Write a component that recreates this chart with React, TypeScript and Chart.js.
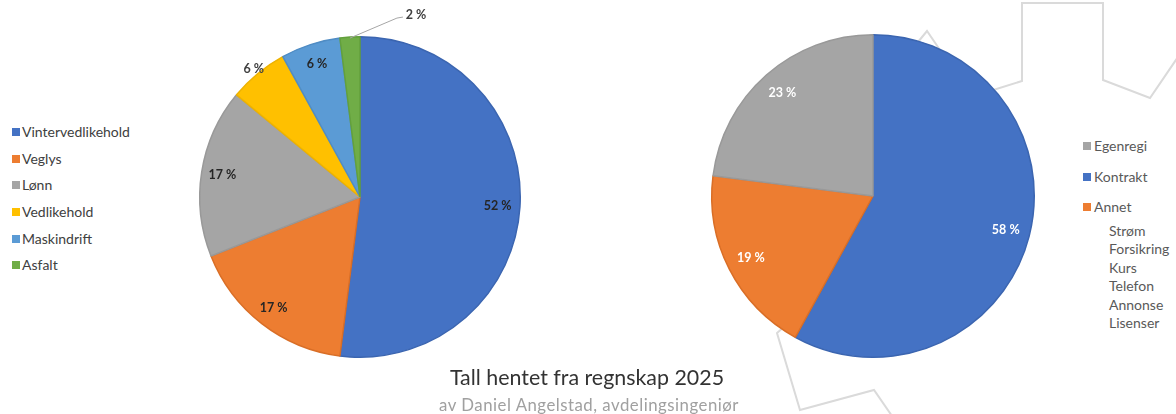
import React, { useEffect, useRef } from "react";
import { Chart, registerables } from "chart.js";

Chart.register(...registerables);

// ---- Data ----
const leftCategories = ["Vintervedlikehold", "Veglys", "Lønn", "Vedlikehold", "Maskindrift", "Asfalt"];
const leftValues = [52, 17, 17, 6, 6, 2];
const leftColors = ["#4472C4", "#ED7D31", "#A5A5A5", "#FFC000", "#5B9BD5", "#70AD47"];
const leftBorders = ["#3B65B0", "#D96E26", "#999999", "#EDB200", "#4F8CC4", "#63A03C"];

const rightCategories = ["Kontrakt", "Annet", "Egenregi"];
const rightValues = [58, 19, 23];
const rightColors = ["#4472C4", "#ED7D31", "#A5A5A5"];
const rightBorders = ["#3B65B0", "#D96E26", "#999999"];
const rightLegendOrder = ["Egenregi", "Kontrakt", "Annet"];
const annetItems = ["Strøm", "Forsikring", "Kurs", "Telefon", "Annonse", "Lisenser"];

const titleText = "Tall hentet fra regnskap 2025";
const subtitleText = "av Daniel Angelstad, avdelingsingeniør";

const FONT = "Lato, 'Open Sans', sans-serif";

// label plugin: draws percentage labels along mid-angle of each slice
const sliceLabels = {
  id: "sliceLabels",
  afterDatasetsDraw(chart: any, _args: any, opts: any) {
    const ctx = chart.ctx;
    const meta = chart.getDatasetMeta(0);
    const data: number[] = chart.data.datasets[0].data;
    const total = data.reduce((a, b) => a + b, 0);
    ctx.save();
    ctx.font = `bold 12.5px ${FONT}`;
    ctx.textAlign = "center";
    ctx.textBaseline = "middle";
    meta.data.forEach((arc: any, i: number) => {
      const p = arc.getProps(["x", "y", "startAngle", "endAngle", "outerRadius"], true);
      const mid = (p.startAngle + p.endAngle) / 2;
      const txt = Math.round((data[i] / total) * 100) + " %";
      const callout = opts.callouts && opts.callouts[i];
      ctx.fillStyle = opts.colors[i];
      if (callout) {
        const ex = p.x + Math.cos(mid) * p.outerRadius;
        const ey = p.y + Math.sin(mid) * p.outerRadius;
        const lx = ex + callout.dx;
        const ly = ey + callout.dy;
        ctx.strokeStyle = "#A6A6A6";
        ctx.lineWidth = 1;
        ctx.beginPath();
        ctx.moveTo(ex, ey + 1);
        ctx.lineTo(lx - 19, ly + 3);
        ctx.lineTo(lx - 13, ly + 2);
        ctx.stroke();
        ctx.fillText(txt, lx, ly);
      } else {
        const r = p.outerRadius * opts.radii[i];
        ctx.fillText(txt, p.x + Math.cos(mid) * r, p.y + Math.sin(mid) * r);
      }
    });
    ctx.restore();
  },
};

function PieChart(props: {
  labels: string[];
  values: number[];
  colors: string[];
  borders: string[];
  padding: any;
  labelOpts: any;
}) {
  const ref = useRef<HTMLCanvasElement | null>(null);
  useEffect(() => {
    if (!ref.current) return;
    const chart = new Chart(ref.current, {
      type: "pie",
      data: {
        labels: props.labels,
        datasets: [
          {
            data: props.values,
            backgroundColor: props.colors,
            borderColor: props.borders,
            borderWidth: 1.5,
          },
        ],
      },
      options: {
        animation: false,
        responsive: true,
        maintainAspectRatio: false,
        layout: { padding: props.padding },
        plugins: {
          legend: { display: false },
          tooltip: { enabled: false },
          sliceLabels: props.labelOpts,
        } as any,
      },
      plugins: [sliceLabels],
    });
    return () => chart.destroy();
  }, []);
  return <canvas ref={ref} />;
}

export default function App() {
  const legendText: React.CSSProperties = {
    fontFamily: FONT,
    fontSize: 14,
    color: "#404040",
    whiteSpace: "nowrap",
    lineHeight: "16px",
  };
  const colorOf = (name: string) => rightColors[rightCategories.indexOf(name)];
  return (
    <div
      style={{
        position: "absolute",
        left: 0,
        top: 0,
        width: 1176,
        height: 414,
        overflow: "hidden",
        background: "#ffffff",
      }}
    >
      {/* decorative background outline */}
      <svg width={1176} height={414} style={{ position: "absolute", left: 0, top: 0 }}>
        <g fill="none" stroke="#DADADA" strokeWidth={2} strokeLinejoin="miter">
          <polyline points="918,42 927,31 940,50" />
          <polyline points="990,91 1022,81 1022,3 1103,3 1103,80 1150,98 1180,54" />
          <polyline points="786,325 777,333 800,410 874,390 892,416" />
        </g>
      </svg>

      {/* left chart */}
      <div style={{ position: "absolute", left: 170, top: 0, width: 380, height: 394 }}>
        <PieChart
          labels={leftCategories}
          values={leftValues}
          colors={leftColors}
          borders={leftBorders}
          padding={{ left: 29, right: 29, top: 36, bottom: 36 }}
          labelOpts={{
            colors: ["#262626", "#262626", "#262626", "#404040", "#262626", "#404040"],
            radii: [0.86, 0.88, 0.87, 1.04, 0.87, 1],
            callouts: [null, null, null, null, null, { dx: 66, dy: -22 }],
          }}
        />
      </div>

      {/* left legend */}
      <div style={{ position: "absolute", left: 12, top: 119 }}>
        {leftCategories.map((c, i) => (
          <div key={c} style={{ display: "flex", alignItems: "center", height: 26.6 }}>
            <span
              style={{ width: 8, height: 8, background: leftColors[i], marginRight: 2, display: "inline-block" }}
            />
            <span style={legendText}>{c}</span>
          </div>
        ))}
      </div>

      {/* right chart */}
      <div style={{ position: "absolute", left: 683, top: 0, width: 380, height: 392 }}>
        <PieChart
          labels={rightCategories}
          values={rightValues}
          colors={rightColors}
          borders={rightBorders}
          padding={{ left: 28, right: 28, top: 34, bottom: 34 }}
          labelOpts={{
            colors: ["#FFFFFF", "#FFFFFF", "#FFFFFF"],
            radii: [0.85, 0.85, 0.85],
            callouts: null,
          }}
        />
      </div>

      {/* right legend */}
      <div style={{ position: "absolute", left: 1083, top: 131 }}>
        {rightLegendOrder.map((c) => (
          <div key={c} style={{ display: "flex", alignItems: "center", height: 30.5 }}>
            <span style={{ width: 8, height: 8, background: colorOf(c), marginRight: 3, display: "inline-block" }} />
            <span style={{ ...legendText, color: "#595959" }}>{c}</span>
          </div>
        ))}
        <div style={{ marginLeft: 26, marginTop: -1 }}>
          {annetItems.map((s) => (
            <div key={s} style={{ ...legendText, color: "#595959", height: 18.6, lineHeight: "18.6px" }}>
              {s}
            </div>
          ))}
        </div>
      </div>

      {/* titles */}
      <div
        style={{
          position: "absolute",
          left: 587,
          top: 364,
          transform: "translateX(-50%)",
          fontFamily: FONT,
          fontSize: 21.4,
          lineHeight: "26px",
          color: "#333333",
          whiteSpace: "nowrap",
        }}
      >
        {titleText}
      </div>
      <div
        style={{
          position: "absolute",
          left: 589,
          top: 395,
          transform: "translateX(-50%)",
          fontFamily: FONT,
          fontSize: 16.8,
          lineHeight: "20px",
          color: "#A0A0A0",
          letterSpacing: 0.5,
          whiteSpace: "nowrap",
        }}
      >
        {subtitleText}
      </div>
    </div>
  );
}
